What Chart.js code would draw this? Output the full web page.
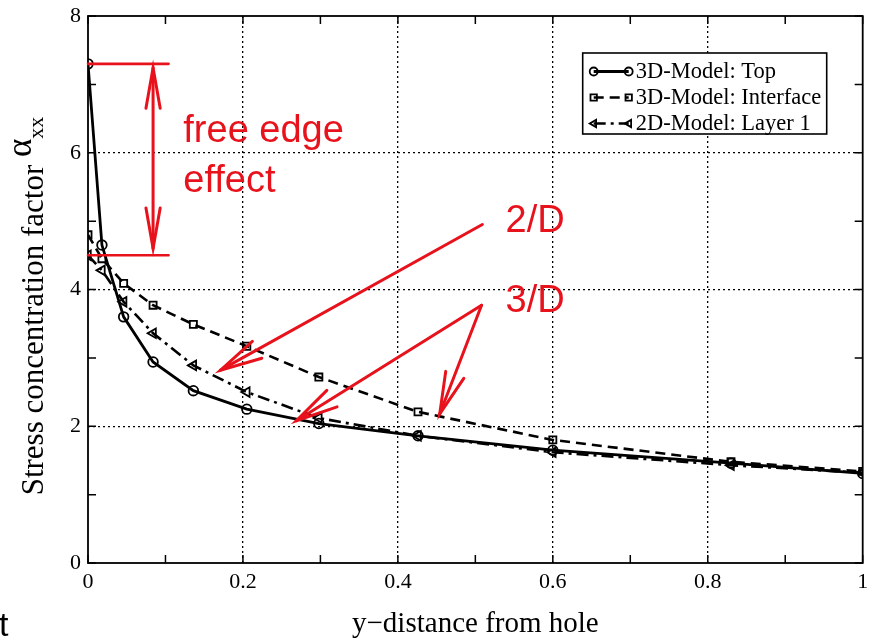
<!DOCTYPE html>
<html>
<head>
<meta charset="utf-8">
<script src="https://cdn.jsdelivr.net/npm/chart.js@4.4.0/dist/chart.umd.min.js"></script>
<style>
  html, body { margin: 0; padding: 0; background: #fff; }
  #wrap { position: relative; width: 870px; height: 640px; }
</style>
</head>
<body>
<div id="wrap"><canvas id="chart" width="870" height="640"></canvas></div>
<script>
// y-distance from hole (mesh shared by the three curves)
const distance = [0, 0.018, 0.046, 0.084, 0.136, 0.205, 0.298, 0.426, 0.6, 0.83, 1.0];
const topValues = [7.30, 4.65, 3.60, 2.94, 2.52, 2.25, 2.04, 1.86, 1.65, 1.46, 1.31];
const interfaceValues = [4.80, 4.45, 4.09, 3.77, 3.49, 3.17, 2.72, 2.21, 1.80, 1.48, 1.34];
const layerValues = [4.50, 4.28, 3.82, 3.36, 2.89, 2.50, 2.12, 1.86, 1.62, 1.43, 1.32];
const seriesNames = ['3D-Model: Top', '3D-Model: Interface', '2D-Model: Layer 1'];

// annotation anchors, in data units
const edgeArrowX = 0.084;
const edgeLineEnd = 0.104;
const notes2D = { label: '2/D', x: 0.539, y: 4.84, from: [0.509, 4.95], to: [[0.171, 2.82]] };
const notes3D = { label: '3/D', x: 0.539, y: 3.67, from: [0.508, 3.77], to: [[0.269, 2.08], [0.454, 2.18]] };

const RED = 'rgb(232,18,28)';
const serif = '"Liberation Serif", "Times New Roman", serif';
const sans = '"Liberation Sans", Arial, sans-serif';

function pts(vals) {
    return distance.map((d, i) => ({ x: d, y: vals[i] }));
}

function wings(ctx, fx, fy, tx, ty, len, spread) {
    const ang = Math.atan2(fy - ty, fx - tx);
    const s = spread * Math.PI / 180;
    ctx.beginPath();
    ctx.moveTo(tx + len * Math.cos(ang + s), ty + len * Math.sin(ang + s));
    ctx.lineTo(tx, ty);
    ctx.lineTo(tx + len * Math.cos(ang - s), ty + len * Math.sin(ang - s));
    ctx.stroke();
}

function marker(ctx, style, x, y, r) {
    ctx.beginPath();
    if (style === 'circle') {
        ctx.arc(x, y, r, 0, Math.PI * 2);
    } else if (style === 'rect') {
        ctx.rect(x - r * 0.8, y - r * 0.8, r * 1.6, r * 1.6);
    } else {
        // triangle pointing left
        ctx.moveTo(x - r, y);
        ctx.lineTo(x + r * 0.6, y - r * 0.9);
        ctx.lineTo(x + r * 0.6, y + r * 0.9);
        ctx.closePath();
    }
    ctx.stroke();
}

const decorations = {
    id: 'decorations',
    beforeDatasetsDraw(chart) {
        // axis box with inward ticks on all four sides
        const { ctx, chartArea: a, scales: { x, y } } = chart;
        ctx.save();
        ctx.strokeStyle = '#000';
        ctx.lineWidth = 1.8;
        ctx.strokeRect(a.left, a.top, a.right - a.left, a.bottom - a.top);
        ctx.lineWidth = 1.5;
        ctx.beginPath();
        x.ticks.forEach(t => {
            const px = x.getPixelForValue(t.value);
            ctx.moveTo(px, a.bottom); ctx.lineTo(px, a.bottom - 8);
            ctx.moveTo(px, a.top); ctx.lineTo(px, a.top + 8);
        });
        y.ticks.forEach(t => {
            const py = y.getPixelForValue(t.value);
            ctx.moveTo(a.left, py); ctx.lineTo(a.left + 8, py);
            ctx.moveTo(a.right, py); ctx.lineTo(a.right - 8, py);
        });
        ctx.stroke();
        ctx.restore();
    },
    afterDraw(chart) {
        const { ctx, chartArea: a, scales: { x, y } } = chart;
        const X = v => x.getPixelForValue(v);
        const Y = v => y.getPixelForValue(v);
        ctx.save();

        // legend
        const lx = a.right - 280, ly = a.top + 37, lw = 244, lh = 81;
        ctx.fillStyle = '#fff';
        ctx.fillRect(lx, ly, lw, lh);
        ctx.strokeStyle = '#000';
        ctx.lineWidth = 1.6;
        ctx.strokeRect(lx, ly, lw, lh);
        chart.data.datasets.forEach((ds, i) => {
            const ry = ly + 18.5 + i * 26;
            const x1 = lx + 11, x2 = lx + 46;
            ctx.strokeStyle = '#000';
            ctx.lineWidth = ds.borderWidth;
            ctx.setLineDash(ds.borderDash || []);
            ctx.beginPath(); ctx.moveTo(x1, ry); ctx.lineTo(x2, ry); ctx.stroke();
            ctx.setLineDash([]);
            ctx.lineWidth = 1.8;
            marker(ctx, ds.pointStyle, x1, ry, 4);
            marker(ctx, ds.pointStyle, x2, ry, 4);
            ctx.fillStyle = '#000';
            ctx.font = '22.5px ' + serif;
            ctx.textBaseline = 'middle';
            ctx.textAlign = 'left';
            ctx.fillText(ds.label, lx + 53, ry + 1);
        });

        // axis titles
        ctx.fillStyle = '#000';
        ctx.textBaseline = 'alphabetic';
        ctx.font = '29px ' + serif;
        ctx.textAlign = 'center';
        ctx.fillText('y\u2212distance from hole', (a.left + a.right) / 2, 632);

        ctx.save();
        ctx.translate(43, 0);
        ctx.rotate(-Math.PI / 2);
        const main = 'Stress concentration factor ';
        ctx.font = '31px ' + serif;
        const w1 = ctx.measureText(main).width;
        ctx.font = '35px ' + serif;
        const w2 = ctx.measureText('\u03b1').width;
        ctx.font = '22px ' + serif;
        const w3 = ctx.measureText('xx').width;
        let sx = -306 - (w1 + w2 + w3) / 2;
        ctx.textAlign = 'left';
        ctx.font = '31px ' + serif;
        ctx.fillText(main, sx, 0);
        ctx.font = '35px ' + serif;
        ctx.fillText('\u03b1', sx + w1, -12);
        ctx.font = '22px ' + serif;
        ctx.fillText('xx', sx + w1 + w2, 0);
        ctx.restore();

        // stray glyph at the left border of the figure
        ctx.font = '34px ' + sans;
        ctx.textAlign = 'left';
        ctx.fillText('t', -1, 636);

        // red annotations
        ctx.strokeStyle = RED;
        ctx.fillStyle = RED;
        ctx.lineCap = 'round';
        ctx.lineWidth = 2.6;
        const yTop = Y(topValues[0]), yLow = Y(layerValues[0]);
        ctx.beginPath();
        ctx.moveTo(X(0), yTop); ctx.lineTo(X(edgeLineEnd), yTop);
        ctx.moveTo(X(0), yLow); ctx.lineTo(X(edgeLineEnd), yLow);
        ctx.stroke();
        const ax = X(edgeArrowX);
        ctx.lineWidth = 3;
        ctx.beginPath();
        ctx.moveTo(ax, yTop + 4); ctx.lineTo(ax, yLow - 7);
        ctx.stroke();
        wings(ctx, ax, yLow, ax, yTop + 4, 41, 10);
        wings(ctx, ax, yTop, ax, yLow - 7, 41, 10);

        ctx.font = '38px ' + sans;
        ctx.textAlign = 'left';
        ctx.textBaseline = 'alphabetic';
        ctx.fillText('free edge', X(0.123), Y(6.16));
        ctx.fillText('effect', X(0.123), Y(5.43));

        [notes2D, notes3D].forEach(n => {
            ctx.fillText(n.label, X(n.x), Y(n.y));
            const fx = X(n.from[0]), fy = Y(n.from[1]);
            n.to.forEach(t => {
                const tx = X(t[0]), ty = Y(t[1]);
                ctx.beginPath(); ctx.moveTo(fx, fy); ctx.lineTo(tx, ty); ctx.stroke();
                wings(ctx, fx, fy, tx, ty, 43, 13);
            });
        });
        ctx.restore();
    }
};

const onEvenStep = (v, step) => Math.abs(v / step - Math.round(v / step)) < 1e-6;

new Chart(document.getElementById('chart'), {
    type: 'line',
    data: {
        datasets: [{
            label: seriesNames[0],
            data: pts(topValues),
            borderColor: '#000',
            borderWidth: 2.8,
            pointStyle: 'circle',
            pointRadius: 4.8,
            pointBorderWidth: 1.8,
            pointBorderColor: '#000',
            pointBackgroundColor: 'rgba(0,0,0,0)'
        }, {
            label: seriesNames[1],
            data: pts(interfaceValues),
            borderColor: '#000',
            borderWidth: 2.6,
            borderDash: [10, 6],
            pointStyle: 'rect',
            pointRadius: 5,
            pointBorderWidth: 1.8,
            pointBorderColor: '#000',
            pointBackgroundColor: 'rgba(0,0,0,0)'
        }, {
            label: seriesNames[2],
            data: pts(layerValues),
            borderColor: '#000',
            borderWidth: 2.6,
            borderDash: [12, 5, 3, 5],
            pointStyle: 'triangle',
            pointRotation: -90,
            pointRadius: 5.5,
            pointBorderWidth: 1.8,
            pointBorderColor: '#000',
            pointBackgroundColor: 'rgba(0,0,0,0)'
        }]
    },
    options: {
        responsive: false,
        animation: false,
        events: [],
        layout: { padding: { top: 16, right: 4, left: 0, bottom: 0 } },
        elements: { line: { tension: 0 } },
        plugins: { legend: { display: false }, tooltip: { enabled: false } },
        scales: {
            x: {
                type: 'linear',
                min: 0,
                max: 1,
                afterFit(scale) { scale.height = 77; scale.paddingLeft = 0; scale.paddingRight = 0; },
                ticks: {
                    stepSize: 0.1,
                    padding: 6,
                    color: '#000',
                    font: { family: serif, size: 22 },
                    maxRotation: 0,
                    autoSkip: false,
                    callback: v => onEvenStep(v, 0.2) ? String(Math.round(v * 10) / 10) : ''
                },
                grid: {
                    drawTicks: false,
                    lineWidth: 1.3,
                    color: c => (c.tick && onEvenStep(c.tick.value, 0.2) && c.tick.value > 0.01 && c.tick.value < 0.99) ? '#000' : 'rgba(0,0,0,0)'
                },
                border: { display: false, dash: [2, 3] }
            },
            y: {
                min: 0,
                max: 8,
                afterFit(scale) { scale.width = 88; scale.paddingTop = 0; scale.paddingBottom = 0; },
                ticks: {
                    stepSize: 1,
                    padding: 7,
                    color: '#000',
                    font: { family: serif, size: 22 },
                    autoSkip: false,
                    callback: v => onEvenStep(v, 2) ? String(v) : ''
                },
                grid: {
                    drawTicks: false,
                    lineWidth: 1.3,
                    color: c => (c.tick && onEvenStep(c.tick.value, 2) && c.tick.value > 0 && c.tick.value < 8) ? '#000' : 'rgba(0,0,0,0)'
                },
                border: { display: false, dash: [2, 3] }
            }
        }
    },
    plugins: [decorations]
});
</script>
</body>
</html>
